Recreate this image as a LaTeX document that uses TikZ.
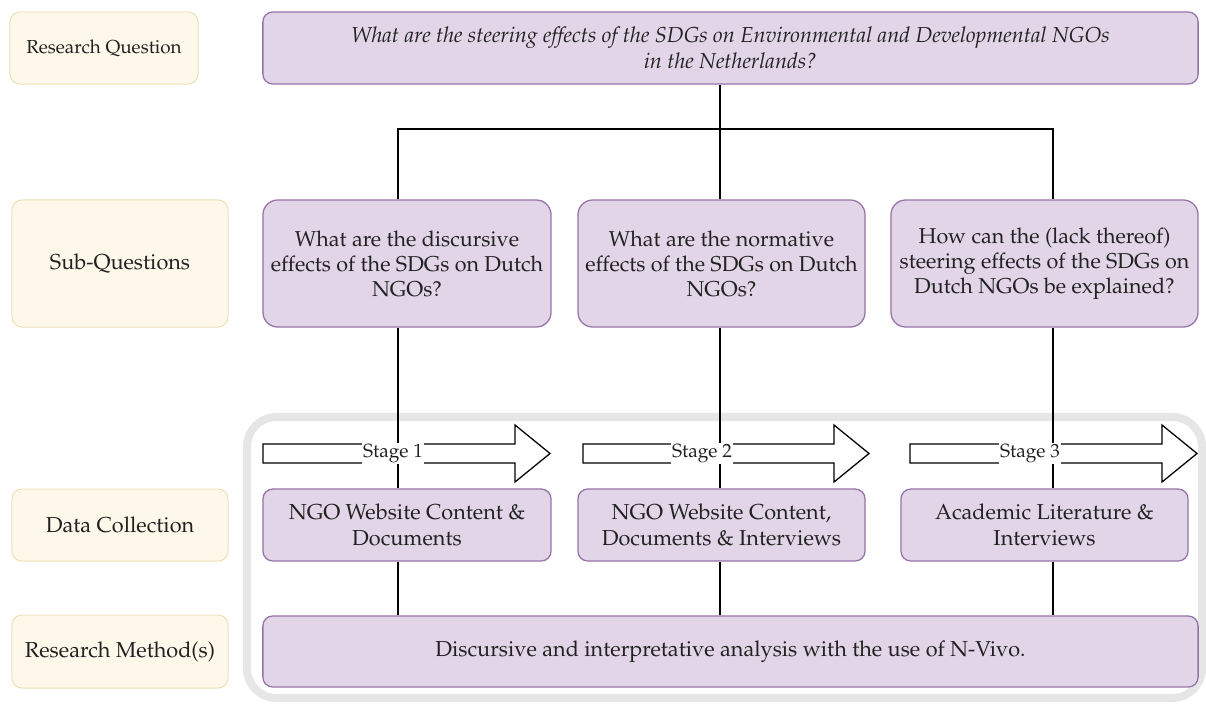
\documentclass[tikz,border=0pt]{standalone}
\usepackage[T1]{fontenc}
\IfFileExists{mathpazo.sty}{\usepackage{mathpazo}}{}
\usepackage{tikz}
\usepackage{xcolor}
\usetikzlibrary{shapes,arrows,positioning,calc}
\definecolor{lilacfill}{HTML}{E1D5E7}
\definecolor{lilacline}{HTML}{9673A6}
\definecolor{creamfill}{HTML}{FEF8EA}
\definecolor{creamline}{HTML}{EDE0B6}
\definecolor{framegray}{HTML}{E6E6E6}
\definecolor{inkgray}{HTML}{222222}
\tikzset{
  rowlabel/.style={draw=creamline, fill=creamfill, rectangle, rounded corners=7pt, line width=0.7pt,
    text=inkgray, align=center, font=\fontsize{15.4}{18.5}\selectfont, inner sep=2pt},
  qbox/.style={draw=lilacline, fill=lilacfill, rectangle, rounded corners=7pt, line width=0.9pt,
    text=inkgray, align=center, font=\fontsize{15.4}{18.5}\selectfont, inner sep=2pt},
  subqbox/.style={qbox, rounded corners=10.5pt, font=\fontsize{15.3}{17.8}\selectfont},
  link/.style={draw=black, line width=0.9pt},
  stagearrow/.style={draw=black, fill=white, line width=0.9pt},
  stagelabel/.style={fill=white, inner sep=1pt, text=inkgray, font=\fontsize{13.6}{16}\selectfont}
}

\begin{document}
\begin{tikzpicture}[x=0.025cm, y=-0.025cm]
    \useasboundingbox (0,0) rectangle (1206,704);

    % grey frame round the data collection and method rows
    \draw[framegray, line width=5.7pt, rounded corners=21pt] (247,417) rectangle (1202,698);

    % row labels
    \node[rowlabel, minimum width=4.7cm, minimum height=1.8cm, font=\fontsize{13.4}{17}\selectfont] (lrq) at (104,48) {Research Question};
    \node[rowlabel, minimum width=5.4cm, minimum height=3.175cm] (lsq) at (120,263.5) {Sub-Questions};
    \node[rowlabel, minimum width=5.4cm, minimum height=1.8cm] (ldc) at (120,525) {Data Collection};
    \node[rowlabel, minimum width=5.4cm, minimum height=1.825cm] (lrm) at (120,651.5) {Research Method(s)};

    % research question
    \node[qbox, minimum width=23.375cm, minimum height=1.8cm] (rq) at (730.5,48)
        {\itshape What are the steering effects of the SDGs on Environmental and Developmental NGOs\\\itshape in the Netherlands?};

    % sub-questions
    \node[subqbox, minimum width=7.2cm, minimum height=3.175cm] (sq1) at (407,263.5)
        {What are the discursive\\effects of the SDGs on Dutch\\NGOs?};
    \node[subqbox, minimum width=7.175cm, minimum height=3.175cm] (sq2) at (721.5,263.5)
        {What are the normative\\effects of the SDGs on Dutch\\NGOs?};
    \node[subqbox, minimum width=7.675cm, minimum height=3.175cm] (sq3) at (1044.5,263.5)
        {How can the (lack thereof)\\steering effects of the SDGs on\\Dutch NGOs be explained?};

    % data collection
    \node[qbox, minimum width=7.2cm, minimum height=1.8cm] (dc1) at (407,525)
        {NGO Website Content \&\\Documents};
    \node[qbox, minimum width=7.175cm, minimum height=1.8cm] (dc2) at (721.5,525)
        {NGO Website Content,\\Documents \& Interviews};
    \node[qbox, minimum width=7.175cm, minimum height=1.8cm] (dc3) at (1044.5,525)
        {Academic Literature \&\\Interviews};

    % method
    \node[qbox, minimum width=23.375cm, minimum height=1.775cm] (rm) at (730.5,651.5)
        {Discursive and interpretative analysis with the use of N-Vivo.};

    % connectors
    \coordinate (jl) at (398,129);
    \coordinate (jm) at (720,129);
    \coordinate (jr) at (1053,129);
    \draw[link] (rq.south -| jm) -- (sq2.north -| jm);
    \draw[link] (sq1.north -| jl) -- (jl) -- (jr) -- (sq3.north -| jr);
    \draw[link] (sq1.south -| jl) -- (dc1.north -| jl);
    \draw[link] (sq2.south -| jm) -- (dc2.north -| jm);
    \draw[link] (sq3.south -| jr) -- (dc3.north -| jr);
    \draw[link] (dc1.south -| jl) -- (rm.north -| jl);
    \draw[link] (dc2.south -| jm) -- (rm.north -| jm);
    \draw[link] (dc3.south -| jr) -- (rm.north -| jr);

    % stage arrows
    \foreach \a/\b/\t/\l/\n in {263/515/550/393/1, 583/834/869/702/2, 910/1162/1197/1030/3}{
        \draw[stagearrow] (\a,444) -- (\b,444) -- (\b,425) -- (\t,453.5) -- (\b,482) -- (\b,463) -- (\a,463) -- cycle;
        \node[stagelabel] (stage\n) at (\l,453.5) {Stage \n};
    }
\end{tikzpicture}
\end{document}
